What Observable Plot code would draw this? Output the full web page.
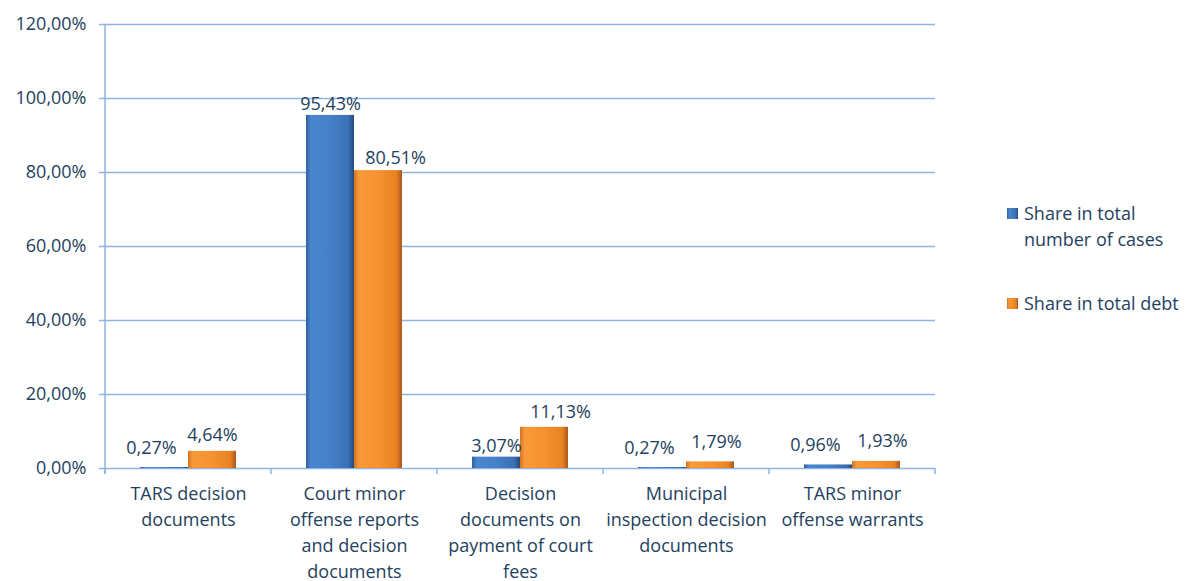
<!DOCTYPE html>
<html><head><meta charset="utf-8">
<script src="https://cdn.jsdelivr.net/npm/d3@7"></script>
<script src="https://cdn.jsdelivr.net/npm/@observablehq/plot@0.6"></script>
<style>
body{margin:0;background:#fff;font-family:"Open Sans",sans-serif;}
#wrap{position:relative;width:1188px;height:581px;overflow:hidden}
.legend{position:absolute;left:1007px;top:0;color:#243f60;font-size:18px;line-height:26px}
.item{position:absolute;left:0;display:flex;align-items:flex-start;white-space:nowrap}
.sw{width:11px;height:11px;margin-top:8px;margin-right:6px;flex:none}
</style></head><body><div id="wrap"></div>
<script>
const categories = ["TARS decision documents","Court minor offense reports and decision documents","Decision documents on payment of court fees","Municipal inspection decision documents","TARS minor offense warrants"];
const tickLabels = ["TARS decision\ndocuments","Court minor\noffense reports\nand decision\ndocuments","Decision\ndocuments on\npayment of court\nfees","Municipal\ninspection decision\ndocuments","TARS minor\noffense warrants"];
const seriesNames = ["Share in total\nnumber of cases","Share in total debt"];
const cases = [0.27, 95.43, 3.07, 0.27, 0.96];
const debt = [4.64, 80.51, 11.13, 1.79, 1.93];
const yTicks = [0, 20, 40, 60, 80, 100, 120];

const rows = categories.flatMap((c, i) => [
  {category: c, series: "cases", value: cases[i]},
  {category: c, series: "debt", value: debt[i]}
]);
const fmt = v => d3.format(".2f")(v).replace(".", ",") + "%";
const textColor = "#243f60";
const gridColor = "#8eb4e3";
const lbl = (filter, dx, dy) => Plot.text(rows.filter(filter), {fx: "category", x: "series", y: "value", text: d => fmt(d.value), lineAnchor: "bottom", dx, dy, fill: textColor});

const chart = Plot.plot({
  width: 1188, height: 581,
  marginLeft: 104, marginRight: 252, marginTop: 24, marginBottom: 113,
  style: {fontFamily: "Open Sans, sans-serif", fontSize: "18px", color: textColor, background: "transparent", overflow: "visible"},
  fx: {domain: categories, padding: 0, axis: null, label: null},
  x: {domain: ["cases", "debt"], paddingInner: 0, paddingOuter: 0.715, axis: null, label: null},
  y: {domain: [0, 120], axis: null, label: null},
  marks: [
    Plot.gridY(yTicks, {stroke: gridColor, strokeOpacity: 1, strokeWidth: 1.5}),
    Plot.axisY(yTicks, {label: null, tickSize: 6, tickPadding: 13, stroke: gridColor, strokeOpacity: 1, strokeWidth: 1.5, fill: textColor, tickFormat: d => fmt(d)}),
    Plot.axisFx({anchor: "bottom", label: null, tickSize: 0, tickPadding: 13, lineHeight: 1.45, fill: textColor, tickFormat: c => tickLabels[categories.indexOf(c)]}),
    Plot.barY(rows.filter(d => d.series === "cases"), {fx: "category", x: "series", y: "value", fill: "url(#gBlue)"}),
    Plot.barY(rows.filter(d => d.series === "debt"), {fx: "category", x: "series", y: "value", fill: "url(#gOrange)"}),
    lbl(d => d.series === "cases" && d.value >= 3, 0, -5),
    lbl(d => d.series === "cases" && d.value < 3, -13, -14),
    lbl(d => d.series === "debt" && d.value > 5 && d.value < 50, 16, -9),
    lbl(d => d.series === "debt" && d.value > 50, 17, -7),
    lbl(d => d.series === "debt" && d.value >= 3 && d.value <= 5, 0, -10),
    lbl(d => d.series === "debt" && d.value < 3, 6, -14)
  ]
});

const svg = d3.select(chart);
const defs = svg.insert("defs", ":first-child");
function grad(id, stops) {
  const g = defs.append("linearGradient").attr("id", id).attr("x1", 0).attr("x2", 1).attr("y1", 0).attr("y2", 0);
  stops.forEach(([o, c]) => g.append("stop").attr("offset", o).attr("stop-color", c));
}
grad("gBlue", [[0, "#2f5f9c"], [0.1, "#4a86d0"], [0.5, "#4580c8"], [0.88, "#3a70b4"], [1, "#254b7a"]]);
grad("gOrange", [[0, "#d47420"], [0.1, "#f99a3a"], [0.5, "#f7922f"], [0.88, "#e98224"], [1, "#a9581a"]]);

const fx = chart.scale("fx"), y = chart.scale("y");
const bounds = categories.map(c => fx.apply(c));
bounds.push(fx.apply(categories[categories.length - 1]) + fx.bandwidth);
const y0 = y.apply(0), yTop = y.apply(120);
const g = svg.append("g").attr("stroke", gridColor).attr("stroke-width", 1.5);
g.append("line").attr("x1", bounds[0]).attr("x2", bounds[0]).attr("y1", yTop).attr("y2", y0 + 6);
bounds.forEach(b => g.append("line").attr("x1", b).attr("x2", b).attr("y1", y0).attr("y2", y0 + 6));

const wrap = document.getElementById("wrap");
wrap.appendChild(chart);
const legend = document.createElement("div");
legend.className = "legend";
const swatches = ["linear-gradient(90deg,#2f5f9c,#4a86d0 20%,#3a70b4 80%,#254b7a)", "linear-gradient(90deg,#d47420,#f99a3a 20%,#e98224 80%,#a9581a)"];
const tops = [200, 290];
seriesNames.forEach((n, i) => {
  const it = document.createElement("div");
  it.className = "item";
  it.style.top = tops[i] + "px";
  const sw = document.createElement("div");
  sw.className = "sw";
  sw.style.background = swatches[i];
  const t = document.createElement("div");
  t.style.whiteSpace = "pre";
  t.textContent = n;
  it.appendChild(sw); it.appendChild(t);
  legend.appendChild(it);
});
wrap.appendChild(legend);
</script>
</body></html>
